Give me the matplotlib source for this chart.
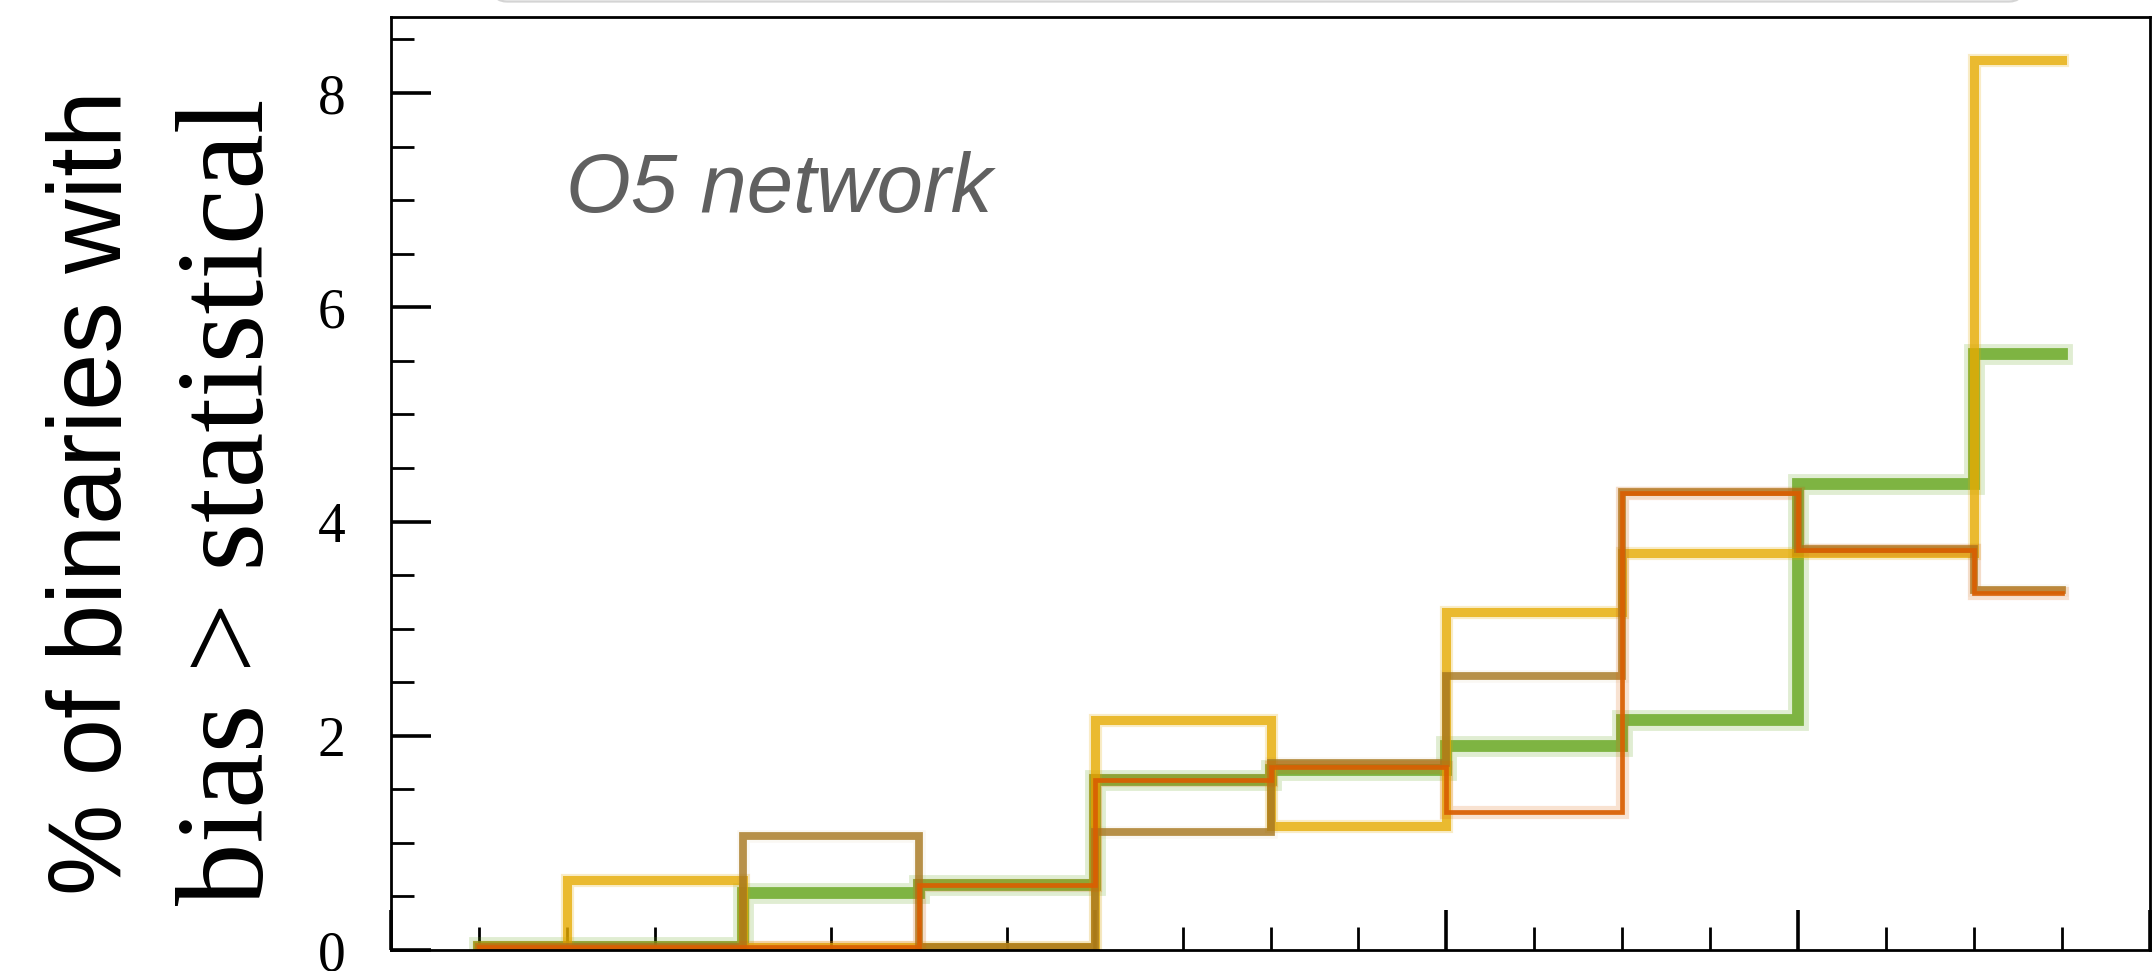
import matplotlib
matplotlib.use("Agg")
import matplotlib.pyplot as plt
from matplotlib.ticker import MultipleLocator
from matplotlib.patches import FancyBboxPatch
from matplotlib.transforms import IdentityTransform

# Bin centres (axis units) and percentage of binaries per bin for each series
bin_centers = [0.25, 0.75, 1.25, 1.75, 2.25, 2.75, 3.25, 3.75, 4.25, 4.75]
pct_yellow = [0.03, 0.65, 0.03, 0.03, 2.15, 1.16, 3.16, 3.71, 3.71, 8.31]
pct_green = [0.03, 0.03, 0.53, 0.61, 1.59, 1.68, 1.90, 2.15, 4.35, 5.56]
pct_brown = [0.03, 0.03, 1.06, 0.03, 1.10, 1.75, 2.56, 4.28, 3.74, 3.36]
pct_orange = [0.03, 0.03, 0.03, 0.61, 1.59, 1.71, 1.29, 4.27, 3.73, 3.33]

ylabel_line1 = "% of binaries with"
ylabel_line2 = "bias > statistical"
annotation = "O5 network"

W, H, DPI = 2152, 971, 100
plt.rcParams["font.family"] = ["Liberation Serif", "DejaVu Serif"]

fig = plt.figure(figsize=(W / DPI, H / DPI), dpi=DPI)
ax = fig.add_axes([391 / W, 21 / H, 1759 / W, 933 / H])

# (values, colour, core width, core alpha, halo width, halo alpha)
series = [
    (pct_green, "#66A61E", 8.5, 0.80, 15.0, 0.20),
    (pct_yellow, "#E6AB02", 6.5, 0.77, 9.5, 0.22),
    (pct_brown, "#A6761D", 5.6, 0.80, 9.0, 0.05),
    (pct_orange, "#D95F02", 3.4, 0.93, 9.5, 0.18),
]
z = 2.0
for vals, col, lw, a, hlw, ha in series:
    ax.plot(bin_centers, vals, drawstyle="steps-mid", color=col, lw=hlw,
            alpha=ha, solid_joinstyle="miter", zorder=z)
    ax.plot(bin_centers, vals, drawstyle="steps-mid", color=col, lw=lw,
            alpha=a, solid_joinstyle="miter", zorder=z + 0.05)
    z += 0.1

ax.set_xlim(0, 5)
ax.set_ylim(0, 8.71)
ax.xaxis.set_major_locator(MultipleLocator(1))
ax.xaxis.set_minor_locator(MultipleLocator(0.25))
ax.yaxis.set_major_locator(MultipleLocator(2))
ax.yaxis.set_minor_locator(MultipleLocator(0.5))

ax.tick_params(axis="both", which="both", direction="in", top=False, right=False,
               color="black")
ax.tick_params(axis="y", which="major", length=29, width=2.6, pad=33, labelsize=40)
ax.tick_params(axis="y", which="minor", length=16.5, width=2.0)
ax.tick_params(axis="x", which="major", length=29, width=2.6, labelbottom=False)
ax.tick_params(axis="x", which="minor", length=16.5, width=2.0)
for sp in ax.spines.values():
    sp.set_linewidth(2.0)
    sp.set_color("black")

ax.text(0.0995, 0.791, annotation, transform=ax.transAxes, ha="left", va="baseline",
        fontsize=60, style="italic", color="#606060",
        family=["Liberation Sans", "DejaVu Sans"])

# Two-line y label: sans first line, serif second line
fig.text(120.5 / W, 478.7 / H, ylabel_line1, rotation=90, rotation_mode="anchor",
         ha="center", va="baseline", fontsize=74,
         family=["Liberation Sans", "DejaVu Sans"])
fig.text(263.4 / W, 469.5 / H, ylabel_line2, rotation=90, rotation_mode="anchor",
         ha="center", va="baseline", fontsize=90,
         family=["Liberation Serif", "DejaVu Serif"])

# Lower edge of the legend frame sitting above the axes
frame = FancyBboxPatch((493, H - 1.5), 2023 - 493, 80,
                       boxstyle="round,pad=0,rounding_size=14",
                       transform=IdentityTransform(), facecolor="white",
                       edgecolor="#d4d4d4", lw=1.6)
fig.add_artist(frame)

fig.savefig("out.png", dpi=DPI)
